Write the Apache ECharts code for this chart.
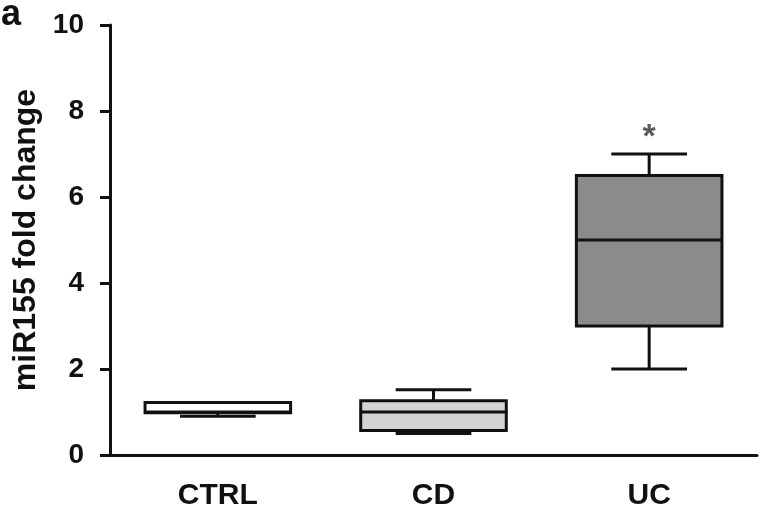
<!DOCTYPE html>
<html>
<head>
<meta charset="utf-8">
<script src="https://cdn.jsdelivr.net/npm/echarts@6/dist/echarts.min.js"></script>
<style>html,body{margin:0;padding:0;background:#fff}#c{width:763px;height:511px}</style>
</head>
<body>
<div id="c"></div>
<script>
var categories = ['CTRL', 'CD', 'UC'];
// [min, Q1, median, Q3, max]
var boxValues = [
  [0.9, 0.98, 1.0, 1.22, 1.22],
  [0.5, 0.57, 1.0, 1.26, 1.52],
  [2.0, 3.0, 5.0, 6.5, 7.0]
];
var boxColors = ['#ffffff', '#d3d3d3', '#8b8b8b'];
var yTicks = [0, 2, 4, 6, 8, 10];
var significance = [{ category: 'UC', y: 7.38, text: '*' }];

var font = 'Liberation Sans, Arial, sans-serif';
var chart = echarts.init(document.getElementById('c'));

var boxData = boxValues.map(function (v, i) { return [i].concat(v); });

chart.setOption({
  animation: false,
  backgroundColor: '#ffffff',
  title: {
    text: 'a', left: 1, top: -3, padding: 0,
    textStyle: { fontFamily: font, fontSize: 36, fontWeight: 'bold', color: '#111' }
  },
  grid: { left: 110, right: 6, top: 25, bottom: 56 },
  xAxis: {
    type: 'category',
    data: categories,
    axisLine: { lineStyle: { color: '#111', width: 3 } },
    axisTick: { alignWithLabel: true, length: 10, lineStyle: { color: '#111', width: 3 } },
    axisLabel: { margin: 26, fontFamily: font, fontSize: 30, fontWeight: 'bold', color: '#111' },
    splitLine: { show: false }
  },
  yAxis: {
    type: 'value',
    min: yTicks[0], max: yTicks[yTicks.length - 1], interval: 2,
    name: 'miR155 fold change',
    nameLocation: 'middle',
    nameGap: 64,
    nameTextStyle: { fontFamily: font, fontSize: 32, fontWeight: 'bold', color: '#111' },
    axisLine: { show: true, lineStyle: { color: '#111', width: 3 } },
    axisTick: { show: true, length: 10, lineStyle: { color: '#111', width: 3 } },
    axisLabel: { margin: 26, fontFamily: font, fontSize: 28, fontWeight: 'bold', color: '#111' },
    splitLine: { show: false }
  },
  series: [
    {
      type: 'custom',
      data: boxData,
      encode: { x: 0, y: [1, 2, 3, 4, 5] },
      renderItem: function (params, api) {
        var idx = api.value(0);
        var pMin = api.coord([idx, api.value(1)]);
        var pQ1 = api.coord([idx, api.value(2)]);
        var pMed = api.coord([idx, api.value(3)]);
        var pQ3 = api.coord([idx, api.value(4)]);
        var pMax = api.coord([idx, api.value(5)]);
        var band = api.size([1, 0])[0];
        var w = band * 0.675;
        var cw = w * 0.52;
        var cx = pMed[0];
        var ls = { stroke: '#111', lineWidth: 3 };
        return {
          type: 'group',
          children: [
            { type: 'line', shape: { x1: cx, y1: pQ3[1], x2: cx, y2: pMax[1] }, style: ls },
            { type: 'line', shape: { x1: cx, y1: pQ1[1], x2: cx, y2: pMin[1] }, style: ls },
            { type: 'line', shape: { x1: cx - cw / 2, y1: pMax[1], x2: cx + cw / 2, y2: pMax[1] }, style: ls },
            { type: 'line', shape: { x1: cx - cw / 2, y1: pMin[1], x2: cx + cw / 2, y2: pMin[1] }, style: ls },
            { type: 'rect', shape: { x: cx - w / 2, y: pQ3[1], width: w, height: pQ1[1] - pQ3[1] },
              style: { fill: boxColors[idx], stroke: '#111', lineWidth: 3 } },
            { type: 'line', shape: { x1: cx - w / 2, y1: pMed[1], x2: cx + w / 2, y2: pMed[1] }, style: ls }
          ]
        };
      }
    },
    {
      type: 'scatter',
      symbolSize: 0,
      data: significance.map(function (s) { return [s.category, s.y, s.text]; }),
      label: {
        show: true, position: 'inside',
        formatter: function (p) { return p.value[2]; },
        fontFamily: font, fontSize: 34, fontWeight: 'bold', color: '#333'
      }
    }
  ]
});
</script>
</body>
</html>
